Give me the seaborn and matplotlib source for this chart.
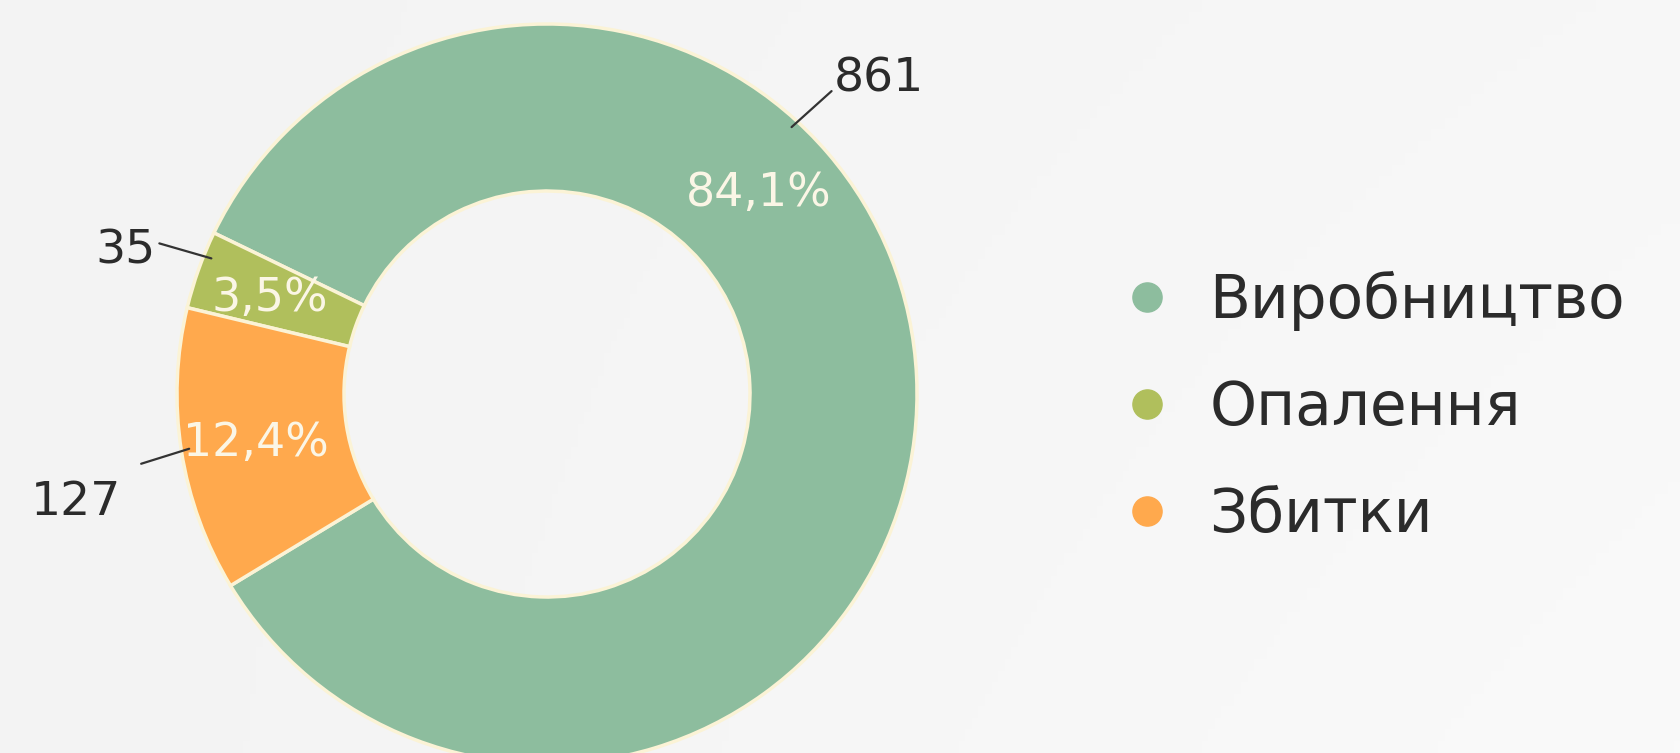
import numpy as np
import matplotlib
matplotlib.use('Agg')
import matplotlib.pyplot as plt
from matplotlib.lines import Line2D
import seaborn as sns

# Datos
categorias = ['Виробництво', 'Опалення', 'Збитки']
valores = [861, 35, 127]
porcentajes = ['84,1%', '3,5%', '12,4%']
colores = ['#8dbd9e', '#b0bf5c', '#ffa94d']

sns.set_theme(style='white')
plt.rcParams['font.family'] = ['DejaVu Sans']

W, H = 1681, 753
fig = plt.figure(figsize=(W / 100, H / 100), dpi=100)
fig.patch.set_facecolor('#f5f5f5')

# fondo con un degradado suave
bg = fig.add_axes([0, 0, 1, 1], zorder=-1)
grad = np.linspace(0, 1, 256)[None, :] * np.linspace(0.6, 1, 64)[:, None]
bg.imshow(grad, cmap=sns.blend_palette(['#f3f3f3', '#fafafa'], as_cmap=True),
          aspect='auto', extent=[0, 1, 0, 1], vmin=0, vmax=1)
bg.axis('off')

ax = fig.add_axes([0, 0, 1, 1])

centro = (547, 359)
radio = 370
ancho = 167

wedges, _ = ax.pie(valores, colors=colores, startangle=211.2, counterclock=True,
                   center=centro, radius=radio, frame=True,
                   wedgeprops=dict(width=ancho, edgecolor='#fbf3d6', linewidth=2.5))
ax.set_xlim(0, W)
ax.set_ylim(0, H)
ax.axis('off')

# porcentajes dentro del anillo (el verde va a 44 grados)
r_mid = radio - ancho / 2
for i, w in enumerate(wedges):
    ang = (w.theta1 + w.theta2) / 2 if i > 0 else 44
    x = centro[0] + (r_mid + 8) * np.cos(np.radians(ang))
    y = centro[1] + (r_mid + 8) * np.sin(np.radians(ang))
    ax.text(x, y - 4, porcentajes[i], color='#fbf6e6', fontsize=33,
            ha='center', va='center')

# valores fuera con linea guia
ang_lbl = [47.5, 158, 188.7]
desp = [(40, 36), (-52, 15), (-48, -15)]
alin = [('left', 'bottom'), ('right', 'center'), ('right', 'top')]
txt_off = [(2, -10), (-4, -8), (-20, -16)]
for i in range(len(valores)):
    a = np.radians(ang_lbl[i])
    px = centro[0] + (radio - 8) * np.cos(a)
    py = centro[1] + (radio - 8) * np.sin(a)
    ex, ey = px + desp[i][0], py + desp[i][1]
    ax.plot([px, ex], [py, ey], color='#333333', lw=1.6, solid_capstyle='round')
    ax.text(ex + txt_off[i][0], ey + txt_off[i][1], str(valores[i]), fontsize=34,
            color='#2b2b2b', ha=alin[i][0], va=alin[i][1])

handles = [Line2D([0], [0], marker='o', linestyle='', markersize=21,
                  markerfacecolor=c, markeredgecolor=c) for c in colores]
fig.legend(handles, categorias, loc='center left', bbox_to_anchor=(1063 / W, 1 - 408 / H),
           frameon=False, fontsize=43, labelspacing=0.8, handlelength=1.0,
           handletextpad=0.55, labelcolor='#2b2b2b')

plt.savefig('out.png', dpi=100, facecolor=fig.get_facecolor())
